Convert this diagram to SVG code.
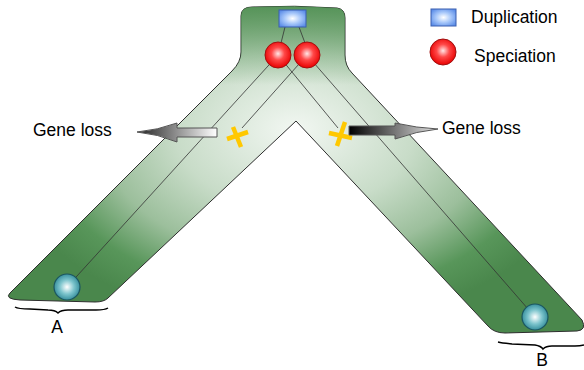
<svg xmlns="http://www.w3.org/2000/svg" width="584" height="370" viewBox="0 0 584 370">
  <defs>
    <radialGradient id="treeFill" gradientUnits="userSpaceOnUse" cx="295" cy="130" r="300" gradientTransform="translate(295,130) scale(1,0.66) translate(-295,-130)">
      <stop offset="0" stop-color="#f2f7f2"/>
      <stop offset="0.4" stop-color="#c8dcc8"/>
      <stop offset="0.65" stop-color="#9cbf9c"/>
      <stop offset="0.85" stop-color="#58965a"/>
      <stop offset="1" stop-color="#4a874c"/>
    </radialGradient>
    <linearGradient id="stemShade" gradientUnits="userSpaceOnUse" x1="0" y1="7" x2="0" y2="85">
      <stop offset="0" stop-color="#4f8f52" stop-opacity="0.9"/>
      <stop offset="1" stop-color="#4f8f52" stop-opacity="0"/>
    </linearGradient>
    <radialGradient id="redBall" cx="0.5" cy="0.45" r="0.55">
      <stop offset="0" stop-color="#ffe6e6"/>
      <stop offset="0.45" stop-color="#ff4848"/>
      <stop offset="1" stop-color="#e80000"/>
    </radialGradient>
    <radialGradient id="tealBall" cx="0.5" cy="0.5" r="0.55">
      <stop offset="0" stop-color="#ffffff"/>
      <stop offset="0.5" stop-color="#7cc4cc"/>
      <stop offset="1" stop-color="#2a8594"/>
    </radialGradient>
    <radialGradient id="blueBox" cx="0.5" cy="0.5" r="0.6">
      <stop offset="0" stop-color="#ffffff"/>
      <stop offset="0.5" stop-color="#a8c8fa"/>
      <stop offset="1" stop-color="#5e8fe8"/>
    </radialGradient>
    <linearGradient id="arrowLeft" gradientUnits="userSpaceOnUse" x1="137" y1="0" x2="217" y2="0">
      <stop offset="0" stop-color="#222"/>
      <stop offset="1" stop-color="#fff"/>
    </linearGradient>
    <linearGradient id="arrowRight" gradientUnits="userSpaceOnUse" x1="349" y1="0" x2="438" y2="0">
      <stop offset="0" stop-color="#000"/>
      <stop offset="1" stop-color="#e6e6e6"/>
    </linearGradient>
  </defs>
  <style>
    .label { font-family: "Liberation Sans", Arial, sans-serif; font-size: 17.5px; fill: #000; }
    .lineage { stroke: #333; stroke-width: 0.8; fill: none; }
    .spec { fill: url(#redBall); stroke: #a01010; stroke-width: 1; }
    .leaf { fill: url(#tealBall); stroke: #1b5660; stroke-width: 1.2; }
    .dup { fill: url(#blueBox); stroke: #3a5fb0; stroke-width: 1; }
    .loss { stroke: #ffc800; stroke-width: 4.5; stroke-linecap: butt; fill: none; }
    .brace { stroke: #000; stroke-width: 1.5; fill: none; }
    .arrow { stroke: #555; stroke-width: 1; }
  </style>

  <!-- species tree outline -->
  <g id="species-tree">
    <path id="tree-body" d="M241,16 Q241,7 252,7 Q295,5 337,8 Q345,9 345,18 L345,55 Q345,66 352,73 L582,320 Q587,330 577,331 L505,333 Q494,333 488,326 L296,121 L108,298 Q104,302 95,302 L20,300 Q4,299 10,293 L232,71 Q241,62 241,52 Z" fill="url(#treeFill)" stroke="#2e2e2e" stroke-width="1"/>
    <path d="M241,16 Q241,7 252,7 Q295,5 337,8 Q345,9 345,18 L345,55 Q345,66 352,73 L582,320 Q587,330 577,331 L505,333 Q494,333 488,326 L296,121 L108,298 Q104,302 95,302 L20,300 Q4,299 10,293 L232,71 Q241,62 241,52 Z" fill="url(#stemShade)" stroke="none"/>
  </g>

  <!-- gene lineages -->
  <g id="connectors">
    <line class="lineage" x1="285" y1="27" x2="281" y2="43"/>
    <line class="lineage" x1="299" y1="27" x2="305" y2="43"/>
    <line class="lineage" x1="278" y1="55" x2="67" y2="287"/>
    <line class="lineage" x1="307" y1="55" x2="242" y2="128"/>
    <line class="lineage" x1="278" y1="55" x2="338" y2="128"/>
    <line class="lineage" x1="307" y1="55" x2="535" y2="317"/>
  </g>

  <g id="duplication">
    <rect class="dup" x="279" y="10" width="27" height="17"/>
  </g>
  <g id="speciation-left">
    <circle class="spec" cx="278" cy="55" r="13"/>
  </g>
  <g id="speciation-right">
    <circle class="spec" cx="307" cy="55" r="13"/>
  </g>

  <g id="loss-left">
    <line class="loss" x1="233" y1="127" x2="241" y2="147"/>
    <line class="loss" x1="227" y1="139" x2="248" y2="132"/>
  </g>
  <g id="loss-right">
    <line class="loss" x1="345" y1="122" x2="337" y2="146"/>
    <line class="loss" x1="329" y1="133" x2="352" y2="138"/>
  </g>

  <g id="arrow-left">
    <path class="arrow" d="M217,128 L177,128 L177,123 Q158,130 137,132 Q158,134 177,142 L177,137 L217,137 Z" fill="url(#arrowLeft)"/>
    <text class="label" x="33" y="136">Gene loss</text>
  </g>
  <g id="arrow-right">
    <path class="arrow" d="M349,126 L395,126 L395,123 Q417,128 438,129 Q417,131 395,139 L395,135 L349,135 Z" fill="url(#arrowRight)"/>
    <text class="label" x="442" y="134">Gene loss</text>
  </g>

  <g id="leaf-a">
    <circle class="leaf" cx="67" cy="287" r="13"/>
    <path class="brace" d="M15,307 Q18,309 30,309 L48,310 Q55,310 58,313 Q61,310 68,310 L96,310 Q105,310 108,308"/>
    <text class="label" x="57" y="333" text-anchor="middle">A</text>
  </g>
  <g id="leaf-b">
    <circle class="leaf" cx="535" cy="317" r="13"/>
    <path class="brace" d="M498,342 Q502,343 512,344 L535,345 Q541,346 543,349 Q546,346 552,346 L575,346 Q580,346 584,345"/>
    <text class="label" x="542" y="366" text-anchor="middle">B</text>
  </g>

  <!-- key -->
  <g id="legend-duplication">
    <rect class="dup" x="431" y="9" width="25" height="17"/>
    <text class="label" x="471" y="23">Duplication</text>
  </g>
  <g id="legend-speciation">
    <circle class="spec" cx="443" cy="52" r="13"/>
    <text class="label" x="474" y="62">Speciation</text>
  </g>
</svg>
